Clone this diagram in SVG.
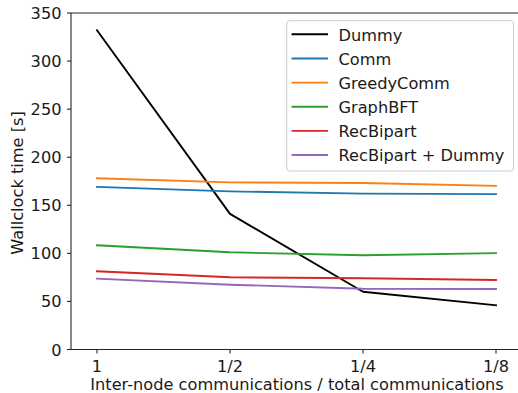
<svg xmlns="http://www.w3.org/2000/svg" width="518" height="393" viewBox="0 0 518 393">
  <style>
    text { font-family: "DejaVu Sans", "Liberation Sans", sans-serif; font-size: 16.2px; fill: #1a1a1a; }
    .spine { stroke: #262626; stroke-width: 1.1; fill: none; }
    .tick { stroke: #262626; stroke-width: 1.1; }
    .series { fill: none; stroke-width: 1.9; stroke-linejoin: round; stroke-linecap: square; }
    .ylab { text-anchor: end; }
    .xlab { text-anchor: middle; }
  </style>

  <rect x="0" y="0" width="518" height="393" fill="#ffffff"/>

  <!-- axes frame -->
  <g id="axes">
    <path class="spine" d="M71,13 H520 M71,13 V349.5 H520"/>
    <!-- y ticks -->
    <g class="tick">
      <line x1="67" y1="349.5" x2="71" y2="349.5"/>
      <line x1="67" y1="301.43" x2="71" y2="301.43"/>
      <line x1="67" y1="253.36" x2="71" y2="253.36"/>
      <line x1="67" y1="205.29" x2="71" y2="205.29"/>
      <line x1="67" y1="157.22" x2="71" y2="157.22"/>
      <line x1="67" y1="109.15" x2="71" y2="109.15"/>
      <line x1="67" y1="61.08" x2="71" y2="61.08"/>
      <line x1="67" y1="13" x2="71" y2="13"/>
    </g>
    <text class="ylab" x="61.5" y="355.5">0</text>
    <text class="ylab" x="61.5" y="307.4">50</text>
    <text class="ylab" x="61.5" y="259.4">100</text>
    <text class="ylab" x="61.5" y="211.3">150</text>
    <text class="ylab" x="61.5" y="163.2">200</text>
    <text class="ylab" x="61.5" y="115.1">250</text>
    <text class="ylab" x="61.5" y="67.1">300</text>
    <text class="ylab" x="61.5" y="19">350</text>
    <!-- x ticks -->
    <g class="tick">
      <line x1="97" y1="349.5" x2="97" y2="353.5"/>
      <line x1="230" y1="349.5" x2="230" y2="353.5"/>
      <line x1="363" y1="349.5" x2="363" y2="353.5"/>
      <line x1="496" y1="349.5" x2="496" y2="353.5"/>
    </g>
    <text class="xlab" x="97" y="372">1</text>
    <text class="xlab" x="230" y="372">1/2</text>
    <text class="xlab" x="363" y="372">1/4</text>
    <text class="xlab" x="496" y="372">1/8</text>
    <!-- axis titles -->
    <text class="xlab" x="297" y="390">Inter-node communications / total communications</text>
    <text class="xlab" transform="translate(22.5,183) rotate(-90)">Wallclock time [s]</text>
  </g>

  <!-- data series -->
  <g id="series">
    <polyline id="dummy" class="series" stroke="#000000" points="97,30.3 230,213.9 363,291.8 496,305.3"/>
    <polyline id="comm" class="series" stroke="#1f77b4" points="97,186.9 230,191.4 363,193.6 496,194.1"/>
    <polyline id="greedycomm" class="series" stroke="#ff7f0e" points="97,178.3 230,182.4 363,183.0 496,185.9"/>
    <polyline id="graphbft" class="series" stroke="#2ca02c" points="97,245.3 230,252.3 363,255.3 496,253.1"/>
    <polyline id="recbipart" class="series" stroke="#d62728" points="97,271.3 230,277.3 363,278.3 496,280"/>
    <polyline id="recbipart-dummy" class="series" stroke="#9467bd" points="97,278.7 230,284.7 363,288.7 496,289"/>
  </g>

  <!-- legend -->
  <g id="legend">
    <rect x="286.7" y="20.7" width="226.8" height="150.3" rx="3" ry="3" fill="#ffffff" fill-opacity="0.85" stroke="#cccccc" stroke-width="1"/>
    <g class="series">
      <line x1="292.5" y1="34.3" x2="327" y2="34.3" stroke="#000000"/>
      <line x1="292.5" y1="58.45" x2="327" y2="58.45" stroke="#1f77b4"/>
      <line x1="292.5" y1="82.6" x2="327" y2="82.6" stroke="#ff7f0e"/>
      <line x1="292.5" y1="106.75" x2="327" y2="106.75" stroke="#2ca02c"/>
      <line x1="292.5" y1="130.9" x2="327" y2="130.9" stroke="#d62728"/>
      <line x1="292.5" y1="155.05" x2="327" y2="155.05" stroke="#9467bd"/>
    </g>
    <text x="338.5" y="40.5">Dummy</text>
    <text x="338.5" y="64.65">Comm</text>
    <text x="338.5" y="88.8">GreedyComm</text>
    <text x="338.5" y="112.95">GraphBFT</text>
    <text x="338.5" y="137.1">RecBipart</text>
    <text x="338.5" y="161.25">RecBipart + Dummy</text>
  </g>
</svg>
